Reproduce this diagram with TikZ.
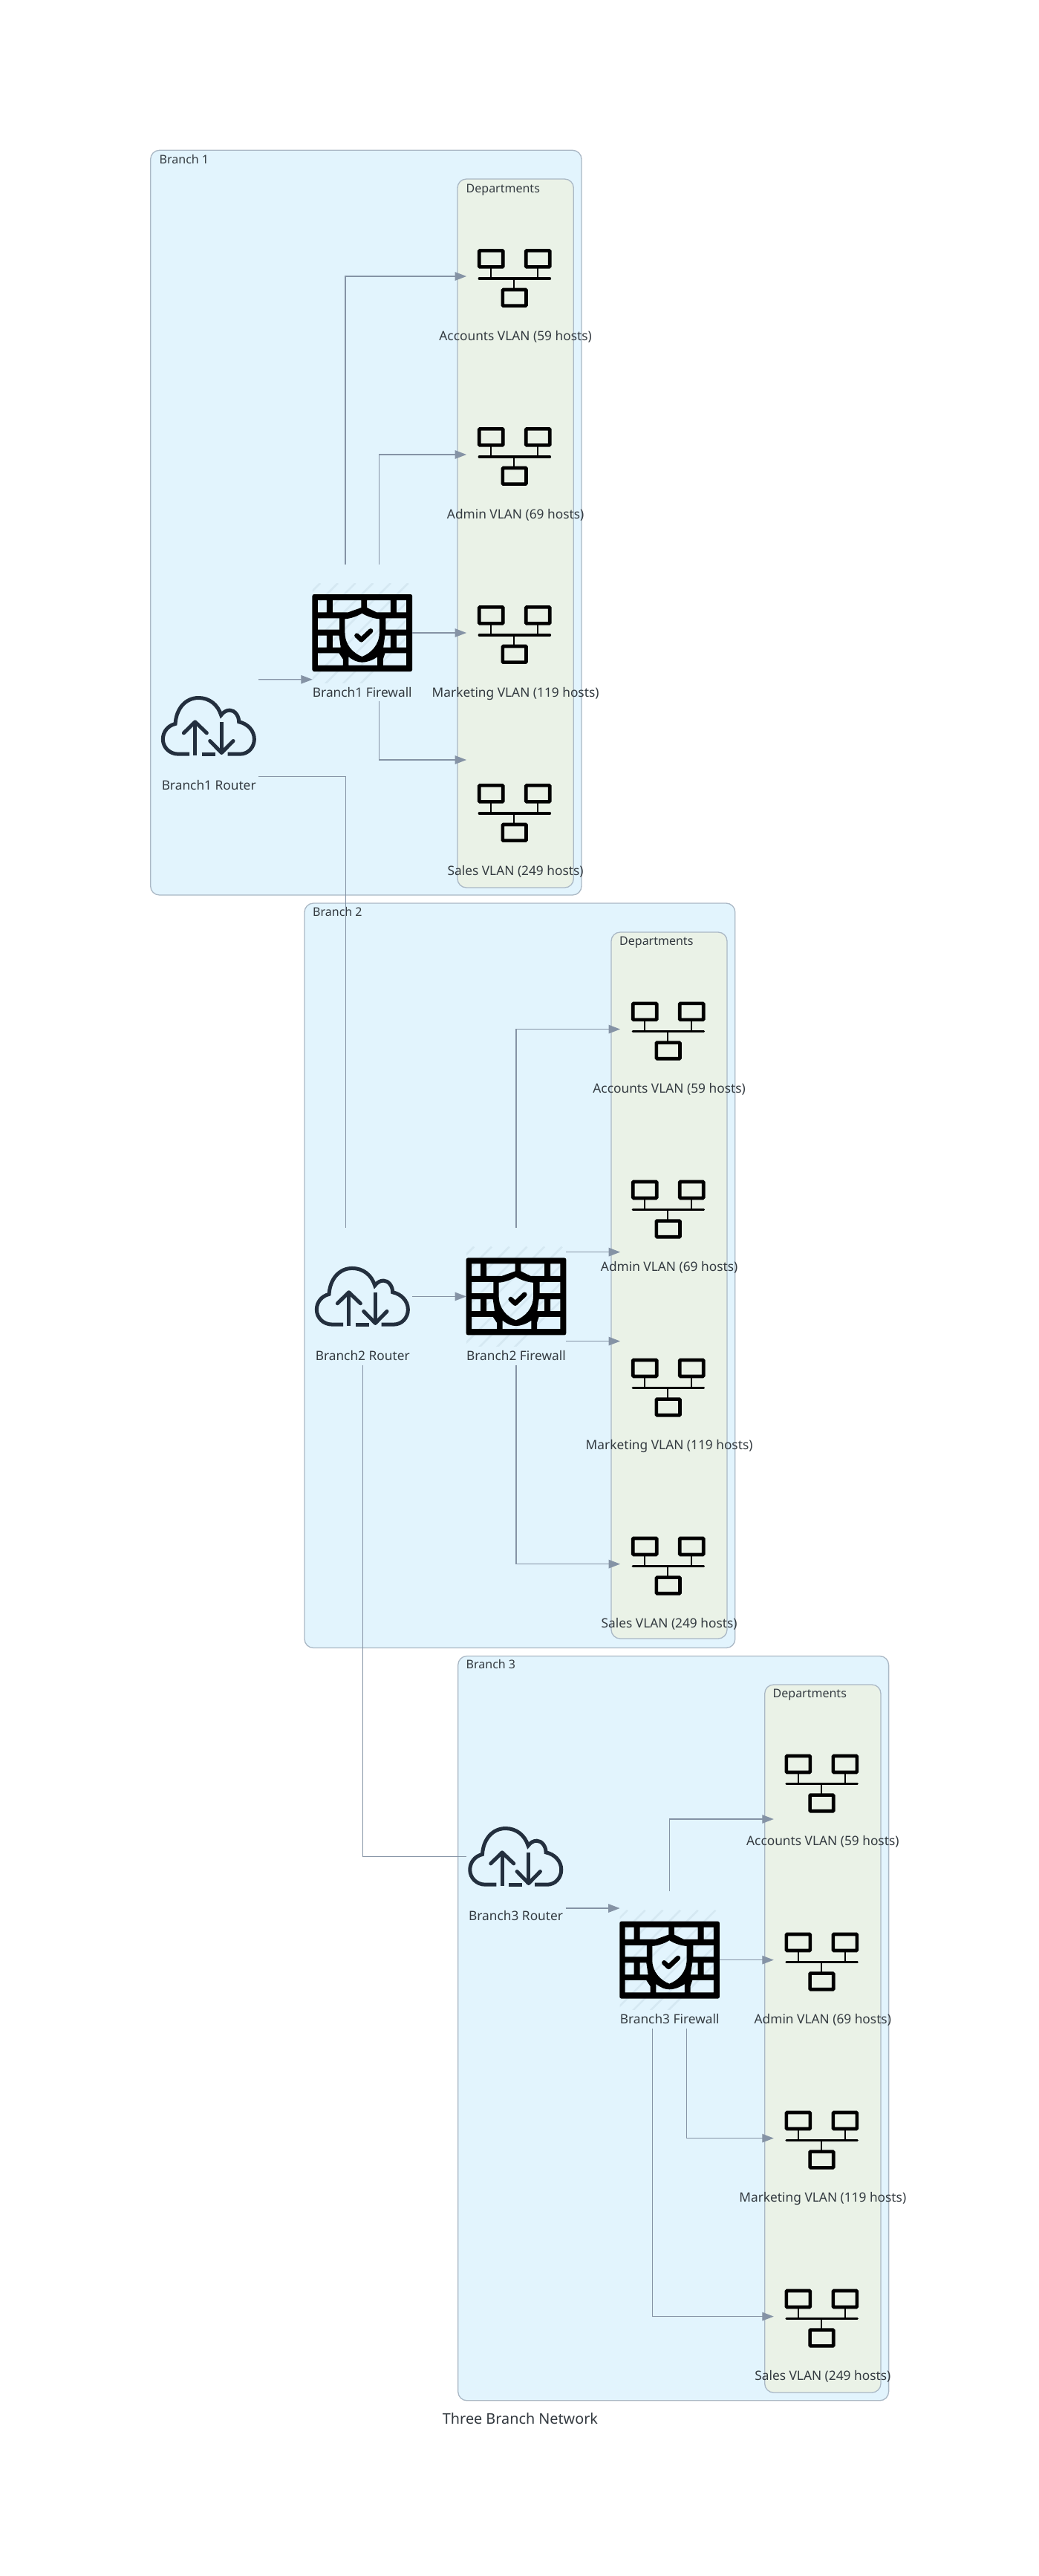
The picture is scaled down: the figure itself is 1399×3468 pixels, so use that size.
\documentclass[tikz,border=0pt]{standalone}
\usepackage{fontspec}
\setmainfont{Noto Sans}
\usetikzlibrary{arrows.meta}
\definecolor{branchfill}{HTML}{E2F4FD}
\definecolor{deptfill}{HTML}{EAF2E7}
\definecolor{groupline}{HTML}{AAB8C5}
\definecolor{linkcol}{HTML}{8593A5}
\definecolor{hatchcol}{HTML}{D5E8F2}
\definecolor{textcol}{HTML}{333A40}
\definecolor{cloudcol}{HTML}{232F3E}
\tikzset{
  groupbox/.style={draw=groupline,line width=1.3pt,rounded corners=12pt,inner sep=0pt},
  devbox/.style={rectangle,inner sep=0pt,minimum width=133.6pt,minimum height=184pt},
  devlabel/.style={font=\fontsize{17.3}{20}\selectfont,text=textcol,inner sep=0pt,text height=11pt,text depth=3pt,anchor=center},
  grouplabel/.style={font=\fontsize{16}{19}\selectfont,text=textcol,inner sep=0pt,text height=10pt,text depth=3pt,anchor=west},
  titlelabel/.style={font=\fontsize{19.8}{23}\selectfont,text=textcol,inner sep=0pt,text height=13pt,text depth=4pt,anchor=center},
  link/.style={draw=linkcol,line width=1.3pt},
  arrowlink/.style={link,-{Triangle[length=15.5pt,width=11.5pt]}},
  neticon/.pic={
    \begin{scope}[x=0.33333pt,y=-0.33333pt,shift={(-187.5,-163.5)}]
      \draw[line width=4.6pt,rounded corners=1pt] (45,52) rectangle (141,118);
      \draw[line width=4.6pt,rounded corners=1pt] (234,52) rectangle (330,118);
      \draw[line width=4.6pt,rounded corners=1pt] (140,210) rectangle (235,275);
      \draw[line width=3.2pt,line cap=round] (45,165) -- (331,165);
      \draw[line width=1.7pt] (93,118) -- (93,165);
      \draw[line width=1.7pt] (282,118) -- (282,165);
      \draw[line width=1.7pt] (186,165) -- (186,210);
    \end{scope}
  },
  fwicon/.pic={
    \begin{scope}
      \clip (-67,-67) rectangle (67,67);
      \foreach \k in {0,...,8}
        \draw[hatchcol,line width=2.6pt] ({-56.6+23.7*\k},-67) -- ({-56.6+23.7*\k-140},73);
    \end{scope}
    \begin{scope}[x=0.33333pt,y=-0.33333pt,shift={(-262,-186)}]
      \fill[black,even odd rule]
        [rounded corners=2.5pt] (60,30) rectangle (464,342) [sharp corners]
        (82,54) rectangle (118,103)
        (142,54) -- (258,54) -- (258,84) -- (205,103) -- (142,103) -- cycle
        (281,54) -- (376,54) -- (376,103) -- (320,103) -- (281,84) -- cycle
        (400,54) rectangle (440,103)
        (82,127) rectangle (170,173)
        (357,127) rectangle (440,173)
        (82,197) rectangle (118,245)
        (142,197) -- (168,197) -- (175,245) -- (142,245) -- cycle
        (354,197) -- (376,197) -- (376,245) -- (347,245) -- cycle
        (400,197) rectangle (440,245)
        (82,268) -- (168,268) -- (184,292) -- (184,317) -- (82,317) -- cycle
        (207,283) .. controls (225,297) and (243,305) .. (261,305) .. controls (280,305) and (303,297) .. (323,283) -- (323,317) -- (207,317) -- cycle
        (354,268) -- (440,268) -- (440,317) -- (346,317) -- (346,292) -- cycle
        (261,107) .. controls (240,120) and (215,128) .. (192,130) -- (192,185) .. controls (192,235) and (225,268) .. (261,282) .. controls (297,268) and (331,235) .. (331,185) -- (331,130) .. controls (307,128) and (282,120) .. (261,107) -- cycle;
      \draw[line width=6.5pt,line cap=round,line join=round] (240,197) -- (258,214) -- (296,178);
    \end{scope}
  },
  cloudicon/.pic={
    \begin{scope}[x=0.33333pt,y=-0.33333pt,shift={(-212,-172)},draw=cloudcol,line width=5pt]
      \draw (135,285) -- (90,285) .. controls (55,285) and (28,258) .. (28,225) .. controls (28,195) and (48,170) .. (78,163) .. controls (82,100) and (120,58) .. (172,58) .. controls (215,58) and (250,85) .. (263,128) .. controls (272,115) and (285,108) .. (298,108) .. controls (318,108) and (335,130) .. (335,155) .. controls (370,162) and (397,190) .. (397,225) .. controls (397,258) and (372,285) .. (340,285) -- (290,285);
      \draw (185,285) -- (240,285);
      \draw (158,290) -- (158,155);
      \draw[line cap=round,line join=round] (112,200) -- (158,155) -- (205,200);
      \draw (265,155) -- (265,280);
      \draw[line cap=round,line join=round] (218,232) -- (265,280) -- (312,232);
    \end{scope}
  }
}
\newcommand{\groupnode}[6]{%
  \node[groupbox,fill=#6,minimum width={#4-#2},minimum height={#5-#3}] (#1) at ({(#2+#4)/2},{(#3+#5)/2}) {};}
\newcommand{\netnode}[4]{%
  \node[devbox] (#1) at (#2,#3) {};
  \pic at ({#2-2.4},{#3+2.5}) {neticon};
  \node[devlabel] (#1-label) at ({#2-1},{#3+82}) {#4};}
\newcommand{\fwnode}[4]{%
  \node[devbox] (#1) at (#2,#3) {};
  \pic at (#2,#3) {fwicon};
  \node[devlabel] (#1-label) at (#2,{#3+82}) {#4};}
\newcommand{\rtnode}[4]{%
  \node[devbox] (#1) at (#2,#3) {};
  \pic at ({#2-0.5},#3) {cloudicon};
  \node[devlabel] (#1-label) at (#2,{#3+82}) {#4};}
\begin{document}
\begin{tikzpicture}[x=1pt,y=-1pt]
  \useasboundingbox[fill=white] (0,0) rectangle (1399,3468);

  % groups
  \groupnode{b1}{202.7}{202.3}{783}{1205}{branchfill}
  \groupnode{b1d}{616}{241}{772.3}{1195}{deptfill}
  \groupnode{b2}{410}{1216}{989.8}{2218.5}{branchfill}
  \groupnode{b2d}{823}{1255}{979}{2206}{deptfill}
  \groupnode{b3}{616.7}{2229.5}{1196.6}{3231.8}{branchfill}
  \groupnode{b3d}{1029.7}{2268}{1186}{3221}{deptfill}
  \node[grouplabel] (b1-title) at (214.5,217) {Branch 1};
  \node[grouplabel] (b1d-title) at (627.5,256) {Departments};
  \node[grouplabel] (b2-title) at (421,1230) {Branch 2};
  \node[grouplabel] (b2d-title) at (834,1269) {Departments};
  \node[grouplabel] (b3-title) at (627.5,2243) {Branch 3};
  \node[grouplabel] (b3d-title) at (1040.5,2282) {Departments};

  % branch 1
  \rtnode{b1rt}{281.2}{977.5}{Branch1 Router}
  \fwnode{b1fw}{487.8}{852}{Branch1 Firewall}
  \netnode{b1acc}{695.1}{372}{Accounts VLAN (59 hosts)}
  \netnode{b1adm}{695.1}{612}{Admin VLAN (69 hosts)}
  \netnode{b1mkt}{695.1}{852}{Marketing VLAN (119 hosts)}
  \netnode{b1sal}{695.1}{1092}{Sales VLAN (249 hosts)}

  % branch 2
  \rtnode{b2rt}{488.2}{1745.4}{Branch2 Router}
  \fwnode{b2fw}{695}{1745.4}{Branch2 Firewall}
  \netnode{b2acc}{902.1}{1385.6}{Accounts VLAN (59 hosts)}
  \netnode{b2adm}{902.1}{1625.6}{Admin VLAN (69 hosts)}
  \netnode{b2mkt}{902.1}{1865.6}{Marketing VLAN (119 hosts)}
  \netnode{b2sal}{902.1}{2105.6}{Sales VLAN (249 hosts)}

  % branch 3
  \rtnode{b3rt}{694.6}{2499.5}{Branch3 Router}
  \fwnode{b3fw}{901.6}{2638.6}{Branch3 Firewall}
  \netnode{b3acc}{1108.8}{2398.6}{Accounts VLAN (59 hosts)}
  \netnode{b3adm}{1108.8}{2638.6}{Admin VLAN (69 hosts)}
  \netnode{b3mkt}{1108.8}{2878.6}{Marketing VLAN (119 hosts)}
  \netnode{b3sal}{1108.8}{3118.6}{Sales VLAN (249 hosts)}

  \node[titlelabel] (title) at (700.5,3259) {Three Branch Network};

  % connectors branch 1
  \draw[arrowlink] ([xshift=-22.8pt]b1fw.north) |- (b1acc.west);
  \draw[arrowlink] ([xshift=22.8pt]b1fw.north) |- (b1adm.west);
  \draw[arrowlink] (b1fw.east) -- (b1mkt.west);
  \draw[arrowlink] ([xshift=22.8pt]b1fw.south) |- ([yshift=69pt]b1sal.west);
  \draw[arrowlink] ([yshift=62.8pt]b1rt.east) -- ([yshift=-62.8pt]b1fw.west);
  \draw[link] ([yshift=-68.2pt]b1rt.east) -| ([xshift=-22.9pt]b2rt.north);

  % connectors branch 2
  \draw[arrowlink] (b2fw.north) |- (b2acc.west);
  \draw[arrowlink] ([yshift=-60pt]b2fw.east |- b2adm.west) -- ([yshift=-60pt]b2adm.west);
  \draw[arrowlink] ([yshift=60pt]b2fw.east |- b2mkt.west) -- ([yshift=60pt]b2mkt.west);
  \draw[arrowlink] (b2fw.south) |- (b2sal.west);
  \draw[arrowlink] (b2rt.east) -- (b2fw.west);
  \draw[link] (b2rt.south) |- (b3rt.west);

  % connectors branch 3
  \draw[arrowlink] (b3fw.north) |- ([yshift=-50.4pt]b3acc.west);
  \draw[arrowlink] (b3fw.east) -- (b3adm.west);
  \draw[arrowlink] ([xshift=22.6pt]b3fw.south) |- (b3mkt.west);
  \draw[arrowlink] ([xshift=-22.9pt]b3fw.south) |- (b3sal.west);
  \draw[arrowlink] ([yshift=-69.5pt]b3rt.east) -- ([yshift=-69.5pt]b3rt.east -| b3fw.west);
\end{tikzpicture}
\end{document}
